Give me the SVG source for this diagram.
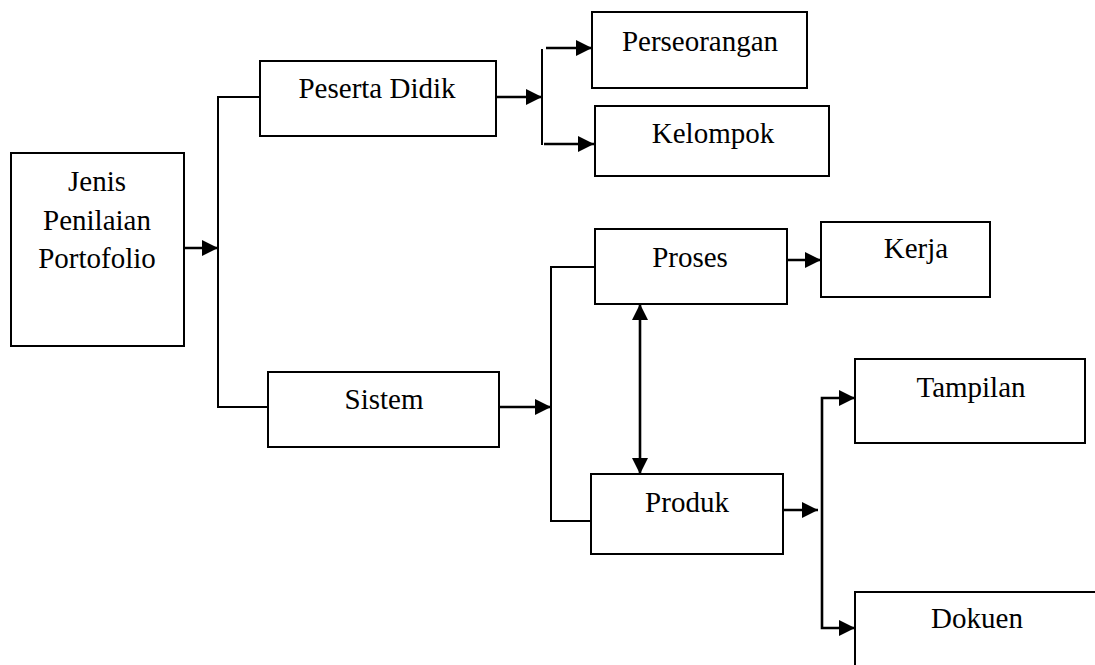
<svg xmlns="http://www.w3.org/2000/svg" width="1095" height="665" viewBox="0 0 1095 665">
<style>
.box{fill:#fff;stroke:#000;stroke-width:2}
.t{font-family:"Liberation Serif","Times New Roman",serif;font-size:29px;fill:#000;text-anchor:middle}
.c{fill:none;stroke:#000;stroke-width:2}
.a{fill:none;stroke:#000;stroke-width:2.6}
</style>
<defs>
<marker id="ah" markerUnits="userSpaceOnUse" markerWidth="17" markerHeight="16" refX="16" refY="8" orient="auto">
<path d="M0,0 L16,8 L0,16 z" fill="#000"/>
</marker>
<marker id="as" markerUnits="userSpaceOnUse" markerWidth="17" markerHeight="16" refX="0" refY="8" orient="auto">
<path d="M16,0 L0,8 L16,16 z" fill="#000"/>
</marker>
</defs>
<rect width="1095" height="665" fill="#fff"/>
<g id="connectors">
<line class="a" x1="184" y1="248" x2="218" y2="248" marker-end="url(#ah)"/>
<polyline class="c" points="259,97 218,97 218,407 268,407"/>
<line class="a" x1="496" y1="97" x2="542" y2="97" marker-end="url(#ah)"/>
<line class="c" x1="542" y1="49" x2="542" y2="145"/>
<line class="a" x1="546" y1="48" x2="592" y2="48" marker-end="url(#ah)"/>
<line class="a" x1="544" y1="144" x2="594" y2="144" marker-end="url(#ah)"/>
<line class="a" x1="499" y1="407" x2="551" y2="407" marker-end="url(#ah)"/>
<polyline class="c" points="595,267 551,267 551,521 591,521"/>
<line class="a" x1="787" y1="260" x2="821" y2="260" marker-end="url(#ah)"/>
<line class="a" x1="640" y1="304" x2="640" y2="474" marker-start="url(#as)" marker-end="url(#ah)"/>
<line class="a" x1="783" y1="510" x2="818" y2="510" marker-end="url(#ah)"/>
<polyline class="a" points="855,398 822,398 822,628 855,628" marker-start="url(#as)" marker-end="url(#ah)"/>
</g>
<g id="jenis"><rect class="box" x="11" y="153" width="173" height="193"/>
<text class="t" x="97" y="191">Jenis</text><text class="t" x="97" y="230">Penilaian</text><text class="t" x="97" y="268">Portofolio</text></g>
<g id="peserta"><rect class="box" x="260" y="61" width="236" height="75"/><text class="t" x="377" y="98">Peserta Didik</text></g>
<g id="perseorangan"><rect class="box" x="592" y="12" width="215" height="76"/><text class="t" x="700" y="51">Perseorangan</text></g>
<g id="kelompok"><rect class="box" x="595" y="106" width="234" height="70"/><text class="t" x="713" y="143">Kelompok</text></g>
<g id="sistem"><rect class="box" x="268" y="372" width="231" height="75"/><text class="t" x="384" y="409">Sistem</text></g>
<g id="proses"><rect class="box" x="595" y="229" width="192" height="75"/><text class="t" x="690" y="267">Proses</text></g>
<g id="kerja"><rect class="box" x="821" y="222" width="169" height="75"/><text class="t" x="916" y="258">Kerja</text></g>
<g id="produk"><rect class="box" x="591" y="474" width="192" height="80"/><text class="t" x="687" y="512">Produk</text></g>
<g id="tampilan"><rect class="box" x="855" y="359" width="230" height="84"/><text class="t" x="971" y="397">Tampilan</text></g>
<g id="dokuen"><rect class="box" x="855" y="592" width="245" height="80"/><text class="t" x="977" y="628">Dokuen</text></g>
</svg>
